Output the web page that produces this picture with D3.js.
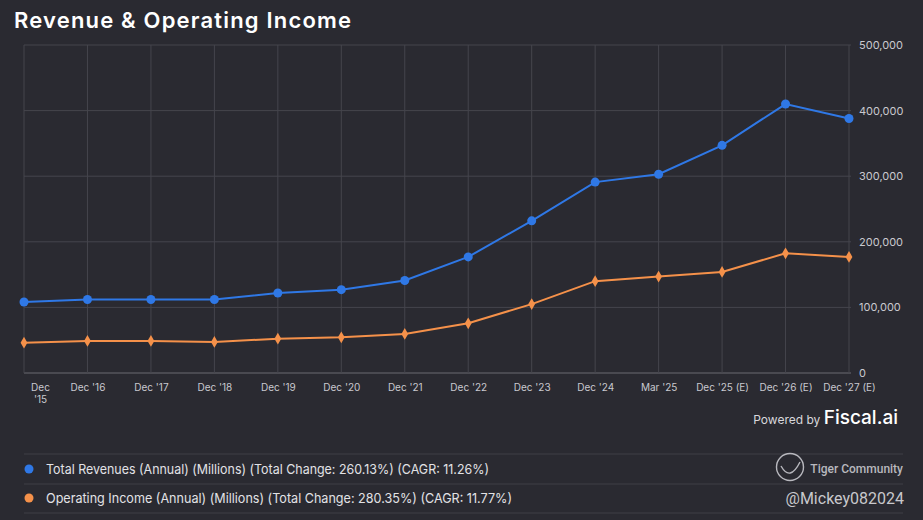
<!DOCTYPE html>
<html><head><meta charset="utf-8">
<script src="https://cdn.jsdelivr.net/npm/d3@7"></script>
<style>
html,body{margin:0;padding:0;background:#2a2a31;}
svg{display:block;font-family:Inter, "Noto Sans", sans-serif;}
</style></head>
<body><svg id="c" width="923" height="520"></svg>
<script>
const categories = ["Dec '15","Dec '16","Dec '17","Dec '18","Dec '19","Dec '20","Dec '21","Dec '22","Dec '23","Dec '24","Mar '25","Dec '25 (E)","Dec '26 (E)","Dec '27 (E)"];
const revenue = [108200,112000,112000,112000,122000,127000,141000,177000,232000,291000,303000,347000,410000,388000];
const opIncome = [46200,48800,48800,47300,52300,54400,59500,75800,105000,140000,147000,154000,182500,177000];
const yTicks = [0,100000,200000,300000,400000,500000];
const legendLabels = ["Total Revenues (Annual) (Millions) (Total Change: 260.13%) (CAGR: 11.26%)","Operating Income (Annual) (Millions) (Total Change: 280.35%) (CAGR: 11.77%)"];
const colors = ["#2f78e6","#f5914a"];

const svg = d3.select("#c");
const W = 923, H = 520;
svg.append("rect").attr("width",W).attr("height",H).attr("fill","#2a2a31");

svg.append("text").attr("x",14).attr("y",28).attr("fill","#ffffff")
  .attr("font-size",22).attr("font-weight",600)
  .attr("textLength",337).attr("lengthAdjust","spacing")
  .text("Revenue & Operating Income");

const x = d3.scalePoint().domain(categories).range([24,849]);
const y = d3.scaleLinear().domain([0,500000]).range([373,45]);

const grid = svg.append("g");
grid.selectAll("line.h").data(yTicks).join("line").attr("class","h")
  .attr("x1",24).attr("x2",851).attr("y1",d=>y(d)).attr("y2",d=>y(d))
  .attr("stroke",d=>d===0?"#6a6a72":"#45454d").attr("stroke-width",1);
grid.selectAll("line.v").data(categories).join("line").attr("class","v")
  .attr("x1",d=>x(d)).attr("x2",d=>x(d)).attr("y1",45).attr("y2",373)
  .attr("stroke","#45454d").attr("stroke-width",1);

// y axis
const yAxis = d3.axisRight(y).tickValues(yTicks).tickSize(0).tickPadding(0)
  .tickFormat(d3.format(","));
const ya = svg.append("g").attr("transform","translate(859,0)").call(yAxis);
ya.select(".domain").remove();
ya.selectAll("text").attr("fill","#c9c9cf").attr("font-size",11).attr("font-family","Inter, sans-serif");

// x axis
const xAxis = d3.axisBottom(x).tickSize(0).tickPadding(0);
const xa = svg.append("g").attr("transform","translate(0,384)").call(xAxis);
xa.select(".domain").remove();
xa.selectAll("text").attr("fill","#c9c9cf").attr("font-size",10).attr("font-family","Inter, sans-serif")
  .each(function(d){
    const t = d3.select(this);
    if (d === categories[0]) {
      const parts = d.split(" ");
      t.text(null);
      t.append("tspan").attr("x",16).attr("dy","0.71em").text(parts[0]);
      t.append("tspan").attr("x",16).attr("dy","1.2em").text(parts[1]);
      t.attr("dy",null);
    }
  });

const line = d3.line().x((d,i)=>x(categories[i])).y(d=>y(d));
[revenue, opIncome].forEach((s,k)=>{
  svg.append("path").datum(s).attr("d",line).attr("fill","none")
    .attr("stroke",colors[k]).attr("stroke-width",2);
});
svg.selectAll("circle.rev").data(revenue).join("circle").attr("class","rev")
  .attr("cx",(d,i)=>x(categories[i])).attr("cy",d=>y(d)).attr("r",4.5).attr("fill",colors[0]);
const diamond = d3.symbol().type(d3.symbolDiamond).size(40);
svg.selectAll("path.op").data(opIncome).join("path").attr("class","op")
  .attr("d",diamond).attr("transform",(d,i)=>`translate(${x(categories[i])},${y(d)})`).attr("fill",colors[1]);

// powered by
const pb = svg.append("text").attr("x",898).attr("y",424).attr("text-anchor","end").attr("fill","#ffffff");
pb.append("tspan").attr("font-size",12).attr("fill","#d8d8dc").text("Powered by ");
pb.append("tspan").attr("font-size",19).attr("font-weight",500).text("Fiscal.ai");

// legend
const lg = svg.append("g");
[454,484,513].forEach(yy=>{
  lg.append("line").attr("x1",24).attr("x2",903).attr("y1",yy).attr("y2",yy).attr("stroke","#3e3e46");
});
const legendWidths = [443, 466];
legendLabels.forEach((t,k)=>{
  const yy = 469 + k*29;
  lg.append("circle").attr("cx",29).attr("cy",yy).attr("r",4.5).attr("fill",colors[k]);
  lg.append("text").attr("x",46).attr("y",yy+4.5).attr("fill","#e2e2e6").attr("font-size",13.5)
    .attr("textLength",legendWidths[k]).attr("lengthAdjust","spacingAndGlyphs").text(t);
});

// watermark
const wm = svg.append("g").attr("fill","none").attr("stroke","#b8b8be").attr("stroke-width",1.4);
wm.append("circle").attr("cx",790).attr("cy",467).attr("r",13.5);
wm.append("path").attr("d","M781,466 Q790,482 800,462");
svg.append("text").attr("x",903).attr("y",473).attr("text-anchor","end").attr("fill","#b8b8be")
  .attr("font-size",12).attr("font-family","Roboto, sans-serif").attr("font-weight",500).text("Tiger Community");
svg.append("text").attr("x",904).attr("y",504).attr("text-anchor","end").attr("fill","#c8c8cc")
  .attr("font-size",16).attr("font-family","Roboto, sans-serif").text("@Mickey082024");
</script></body></html>
